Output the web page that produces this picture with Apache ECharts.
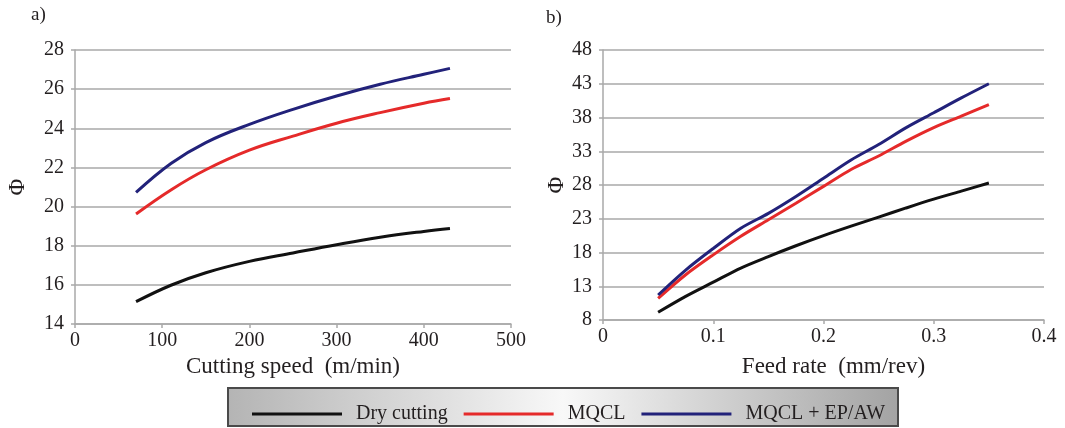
<!DOCTYPE html>
<html>
<head>
<meta charset="utf-8">
<script src="https://cdn.jsdelivr.net/npm/echarts@6/dist/echarts.min.js"></script>
<style>
html,body{margin:0;padding:0;background:#fff;}
#c{width:1065px;height:428px;}
</style>
</head>
<body>
<div id="c"></div>
<script>
// ---- data ----
const seriesNames = ['Dry cutting', 'MQCL', 'MQCL + EP/AW'];

const speed = [70, 110, 150, 200, 250, 300, 350, 400, 430];
const phiSpeedDry  = [15.14, 15.98, 16.62, 17.2, 17.63, 18.05, 18.43, 18.73, 18.88];
const phiSpeedMQCL = [19.62, 20.85, 21.88, 22.88, 23.6, 24.26, 24.8, 25.28, 25.52];
const phiSpeedEP   = [20.72, 22.2, 23.27, 24.2, 24.97, 25.65, 26.25, 26.76, 27.06];

const feed = [0.05, 0.075, 0.1, 0.125, 0.15, 0.175, 0.2, 0.225, 0.25, 0.275, 0.3, 0.325, 0.35];
const phiFeedDry  = [9.14, 11.5, 13.6, 15.7, 17.4, 19.0, 20.5, 21.9, 23.25, 24.6, 25.9, 27.1, 28.3];
const phiFeedMQCL = [11.2, 14.7, 17.65, 20.4, 22.85, 25.3, 27.8, 30.3, 32.3, 34.5, 36.5, 38.2, 39.9];
const phiFeedEP   = [11.7, 15.4, 18.6, 21.6, 23.8, 26.3, 29.0, 31.7, 34.0, 36.5, 38.7, 40.9, 43.0];

const panelLabels = ['a)', 'b)'];
const xNames = ['Cutting speed  (m/min)', 'Feed rate  (mm/rev)'];
const yName = 'Φ';

// ---- styling ----
const FONT = 'Liberation Serif';
const TXT = '#231f20';
const GRID = '#a9a9a9';
const colors = ['#111111', '#e52a2a', '#22227a'];

function pairs(xs, ys) { return xs.map((x, i) => [x, ys[i]]); }

function axisCommon() {
  return {
    axisLine: { show: true, lineStyle: { color: GRID, width: 1.5 } },
    axisTick: { show: true, length: 4, lineStyle: { color: GRID, width: 1.5 } },
    axisLabel: { color: TXT, fontFamily: FONT, fontSize: 20 },
    nameTextStyle: { color: TXT, fontFamily: FONT, fontSize: 23 }
  };
}

function lineSeries(name, data, ci, axisIdx, smooth) {
  return {
    name: name, type: 'line', data: data,
    xAxisIndex: axisIdx, yAxisIndex: axisIdx,
    smooth: smooth, showSymbol: false, symbol: 'none',
    lineStyle: { color: colors[ci], width: 3 },
    itemStyle: { color: colors[ci] },
    emphasis: { disabled: true }
  };
}

const chart = echarts.init(document.getElementById('c'), null, { renderer: 'canvas' });

const option = {
  animation: false,
  backgroundColor: '#ffffff',
  grid: [
    { left: 75, right: 554, top: 50, bottom: 104 },
    { left: 603, right: 21, top: 50, bottom: 108 }
  ],
  xAxis: [
    Object.assign(axisCommon(), {
      type: 'value', gridIndex: 0, min: 0, max: 500, interval: 100,
      splitLine: { show: false },
      name: xNames[0], nameLocation: 'middle', nameGap: 31,
      axisLabel: { color: TXT, fontFamily: FONT, fontSize: 20, margin: 7 }
    }),
    Object.assign(axisCommon(), {
      type: 'value', gridIndex: 1, min: 0, max: 0.4, interval: 0.1,
      splitLine: { show: false },
      name: xNames[1], nameLocation: 'middle', nameGap: 35,
      nameTextStyle: { color: TXT, fontFamily: FONT, fontSize: 23, padding: [0, 0, 0, 20] },
      axisLabel: { color: TXT, fontFamily: FONT, fontSize: 20, margin: 7,
        formatter: v => (v === 0 ? '0' : v.toFixed(1)) }
    })
  ],
  yAxis: [
    Object.assign(axisCommon(), {
      type: 'value', gridIndex: 0, min: 14, max: 28, interval: 2,
      splitLine: { show: true, lineStyle: { color: GRID, width: 1.5 } },
      name: yName, nameLocation: 'middle', nameGap: 46,
      axisLabel: { color: TXT, fontFamily: FONT, fontSize: 20, margin: 11 }
    }),
    Object.assign(axisCommon(), {
      type: 'value', gridIndex: 1, min: 8, max: 48, interval: 5,
      splitLine: { show: true, lineStyle: { color: GRID, width: 1.5 } },
      name: yName, nameLocation: 'middle', nameGap: 35,
      axisLabel: { color: TXT, fontFamily: FONT, fontSize: 20, margin: 11 }
    })
  ],
  legend: {
    data: seriesNames,
    left: 247, top: 399,
    icon: 'rect', itemWidth: 90, itemHeight: 3, itemGap: 16,
    textStyle: { color: TXT, fontFamily: FONT, fontSize: 20, padding: [0, 0, 0, 9] },
    selectedMode: false
  },
  graphic: [
    {
      type: 'rect', z: -1, silent: true,
      shape: { x: 228, y: 388, width: 670, height: 38 },
      style: {
        fill: new echarts.graphic.LinearGradient(0, 0, 1, 0, [
          { offset: 0, color: '#b4b4b4' },
          { offset: 0.5, color: '#f8f8f8' },
          { offset: 1, color: '#a3a3a3' }
        ]),
        stroke: '#4a4a4a', lineWidth: 2
      }
    },
    { type: 'text', left: 31, top: 6, style: { text: panelLabels[0], fill: TXT, font: '19px "Liberation Serif"' } },
    { type: 'text', left: 546, top: 9, style: { text: panelLabels[1], fill: TXT, font: '19px "Liberation Serif"' } }
  ],
  series: [
    lineSeries(seriesNames[0], pairs(speed, phiSpeedDry), 0, 0, 0.4),
    lineSeries(seriesNames[1], pairs(speed, phiSpeedMQCL), 1, 0, 0.4),
    lineSeries(seriesNames[2], pairs(speed, phiSpeedEP), 2, 0, 0.4),
    lineSeries(seriesNames[0], pairs(feed, phiFeedDry), 0, 1, 0.3),
    lineSeries(seriesNames[1], pairs(feed, phiFeedMQCL), 1, 1, 0.3),
    lineSeries(seriesNames[2], pairs(feed, phiFeedEP), 2, 1, 0.3)
  ]
};
chart.setOption(option);
</script>
</body>
</html>
